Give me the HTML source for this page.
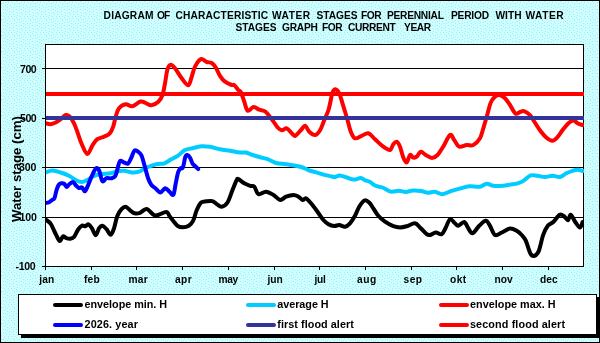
<!DOCTYPE html>
<html><head><meta charset="utf-8"><style>
html,body{margin:0;padding:0;width:600px;height:343px;overflow:hidden;background:#CCFFFF}
svg{position:absolute;left:0;top:0;display:block}
text{font-family:"Liberation Sans",sans-serif;font-weight:bold}
</style></head><body>
<svg width="600" height="343" viewBox="0 0 600 343">
<defs><pattern id="bgp" x="1" y="36" width="16" height="16" patternUnits="userSpaceOnUse"><rect width="16" height="16" fill="#CCFFFF"/><g fill="#B2E5EE"><rect x="6" y="0" width="1" height="1"/><rect x="13" y="0" width="1" height="1"/><rect x="4" y="1" width="1" height="1"/><rect x="9" y="1" width="1" height="1"/><rect x="2" y="2" width="1" height="1"/><rect x="15" y="2" width="1" height="1"/><rect x="6" y="3" width="1" height="1"/><rect x="10" y="3" width="1" height="1"/><rect x="13" y="3" width="1" height="1"/><rect x="8" y="4" width="1" height="1"/><rect x="2" y="5" width="1" height="1"/><rect x="4" y="5" width="1" height="1"/><rect x="11" y="5" width="1" height="1"/><rect x="15" y="5" width="1" height="1"/><rect x="6" y="6" width="1" height="1"/><rect x="8" y="7" width="1" height="1"/><rect x="12" y="7" width="1" height="1"/><rect x="4" y="8" width="1" height="1"/><rect x="10" y="8" width="1" height="1"/><rect x="15" y="8" width="1" height="1"/><rect x="2" y="9" width="1" height="1"/><rect x="5" y="10" width="1" height="1"/><rect x="8" y="10" width="1" height="1"/><rect x="12" y="10" width="1" height="1"/><rect x="0" y="11" width="1" height="1"/><rect x="3" y="12" width="1" height="1"/><rect x="7" y="12" width="1" height="1"/><rect x="10" y="12" width="1" height="1"/><rect x="13" y="12" width="1" height="1"/><rect x="15" y="13" width="1" height="1"/><rect x="4" y="14" width="1" height="1"/><rect x="7" y="14" width="1" height="1"/><rect x="11" y="14" width="1" height="1"/><rect x="0" y="15" width="1" height="1"/><rect x="2" y="15" width="1" height="1"/><rect x="13" y="15" width="1" height="1"/></g></pattern><clipPath id="pc"><rect x="46" y="45" width="538" height="221"/></clipPath></defs>
<rect x="0" y="0" width="600" height="343" fill="url(#bgp)"/>
<path d="M0,0H600V343H0Z M1,1V342H599V1Z" fill="#000" fill-rule="evenodd"/>
<rect x="45" y="44" width="539" height="223" fill="#000"/><rect x="46" y="45" width="537" height="221" fill="#fff"/>
<rect x="42" y="68" width="541" height="1" fill="#000"/>
<rect x="42" y="118" width="541" height="1" fill="#000"/>
<rect x="42" y="167" width="541" height="1" fill="#000"/>
<rect x="42" y="217" width="541" height="1" fill="#000"/>
<rect x="42" y="266" width="3" height="1" fill="#000"/>
<rect x="45" y="267" width="1" height="3" fill="#000"/>
<rect x="91" y="267" width="1" height="3" fill="#000"/>
<rect x="136" y="267" width="1" height="3" fill="#000"/>
<rect x="182" y="267" width="1" height="3" fill="#000"/>
<rect x="228" y="267" width="1" height="3" fill="#000"/>
<rect x="274" y="267" width="1" height="3" fill="#000"/>
<rect x="319" y="267" width="1" height="3" fill="#000"/>
<rect x="365" y="267" width="1" height="3" fill="#000"/>
<rect x="411" y="267" width="1" height="3" fill="#000"/>
<rect x="456" y="267" width="1" height="3" fill="#000"/>
<rect x="502" y="267" width="1" height="3" fill="#000"/>
<rect x="548" y="267" width="1" height="3" fill="#000"/>
<g clip-path="url(#pc)" fill="none" stroke-linejoin="round" stroke-linecap="round">
<path d="M45.70,219.50 C46.52,220.18 49.13,221.60 50.60,223.60 C52.07,225.60 53.20,228.87 54.50,231.50 C55.80,234.13 57.42,237.87 58.40,239.40 C59.38,240.93 59.63,241.22 60.40,240.70 C61.17,240.18 62.02,236.73 63.00,236.30 C63.98,235.87 65.10,237.70 66.30,238.10 C67.50,238.50 68.88,238.93 70.20,238.70 C71.52,238.47 72.88,238.23 74.20,236.70 C75.52,235.17 76.78,231.35 78.10,229.50 C79.42,227.65 80.90,226.15 82.10,225.60 C83.30,225.05 84.22,226.42 85.30,226.20 C86.38,225.98 87.50,223.97 88.60,224.30 C89.70,224.63 90.70,226.38 91.90,228.20 C93.10,230.02 94.60,235.20 95.80,235.20 C97.00,235.20 98.00,229.77 99.10,228.20 C100.20,226.63 101.17,225.63 102.40,225.80 C103.63,225.97 105.12,227.72 106.50,229.20 C107.88,230.68 109.45,234.85 110.70,234.70 C111.95,234.55 112.90,231.42 114.00,228.30 C115.10,225.18 116.05,219.18 117.30,216.00 C118.55,212.82 120.10,210.75 121.50,209.20 C122.90,207.65 124.17,206.43 125.70,206.70 C127.23,206.97 129.18,209.70 130.70,210.80 C132.22,211.90 133.25,212.97 134.80,213.30 C136.35,213.63 138.02,213.52 140.00,212.80 C141.98,212.08 144.17,208.55 146.70,209.00 C149.23,209.45 151.97,215.00 155.20,215.50 C158.43,216.00 163.70,211.87 166.10,212.00 C168.50,212.13 168.43,214.85 169.60,216.30 C170.77,217.75 171.78,219.12 173.10,220.70 C174.42,222.28 175.90,224.70 177.50,225.80 C179.10,226.90 180.82,227.30 182.70,227.30 C184.58,227.30 187.05,226.90 188.80,225.80 C190.55,224.70 191.88,223.30 193.20,220.70 C194.52,218.10 195.38,213.23 196.70,210.20 C198.02,207.17 199.50,203.98 201.10,202.50 C202.70,201.02 204.42,201.53 206.30,201.30 C208.18,201.07 210.65,200.63 212.40,201.10 C214.15,201.57 215.25,203.17 216.80,204.10 C218.35,205.03 219.92,206.97 221.70,206.70 C223.48,206.43 225.70,205.28 227.50,202.50 C229.30,199.72 230.97,193.75 232.50,190.00 C234.03,186.25 235.70,181.80 236.70,180.00 C237.70,178.20 237.23,178.65 238.50,179.20 C239.77,179.75 242.35,182.20 244.30,183.30 C246.25,184.40 248.53,185.23 250.20,185.80 C251.87,186.37 252.92,185.30 254.30,186.70 C255.68,188.10 256.55,193.37 258.50,194.20 C260.45,195.03 263.50,191.57 266.00,191.70 C268.50,191.83 271.13,193.62 273.50,195.00 C275.87,196.38 278.12,199.72 280.20,200.00 C282.28,200.28 283.78,197.53 286.00,196.70 C288.22,195.87 291.42,195.00 293.50,195.00 C295.58,195.00 296.97,195.87 298.50,196.70 C300.03,197.53 301.45,199.73 302.70,200.00 C303.95,200.27 304.62,197.75 306.00,198.30 C307.38,198.85 309.20,201.22 311.00,203.30 C312.80,205.38 314.85,208.15 316.80,210.80 C318.75,213.45 320.75,216.97 322.70,219.20 C324.65,221.43 326.57,223.07 328.50,224.20 C330.43,225.33 332.52,225.87 334.30,226.00 C336.08,226.13 337.42,224.88 339.20,225.00 C340.98,225.12 343.20,226.98 345.00,226.70 C346.80,226.42 348.33,225.12 350.00,223.30 C351.67,221.48 353.47,218.57 355.00,215.80 C356.53,213.03 357.62,209.25 359.20,206.70 C360.78,204.15 362.83,201.20 364.50,200.50 C366.17,199.80 367.73,201.20 369.20,202.50 C370.67,203.80 371.78,206.08 373.30,208.30 C374.82,210.52 376.35,213.57 378.30,215.80 C380.25,218.03 382.50,219.97 385.00,221.70 C387.50,223.43 390.80,225.23 393.30,226.20 C395.80,227.17 397.77,227.48 400.00,227.50 C402.23,227.52 404.20,227.00 406.70,226.30 C409.20,225.60 412.65,222.97 415.00,223.30 C417.35,223.63 418.85,226.48 420.80,228.30 C422.75,230.12 425.17,233.08 426.70,234.20 C428.23,235.32 428.48,235.28 430.00,235.00 C431.52,234.72 433.85,232.63 435.80,232.50 C437.75,232.37 440.03,235.03 441.70,234.20 C443.37,233.37 444.42,230.00 445.80,227.50 C447.18,225.00 448.47,219.90 450.00,219.20 C451.53,218.50 453.62,222.20 455.00,223.30 C456.38,224.40 456.77,226.02 458.30,225.80 C459.83,225.58 462.53,221.58 464.20,222.00 C465.87,222.42 466.92,226.42 468.30,228.30 C469.68,230.18 470.68,233.72 472.50,233.30 C474.32,232.88 476.98,227.88 479.20,225.80 C481.42,223.72 484.00,220.80 485.80,220.80 C487.60,220.80 488.47,223.43 490.00,225.80 C491.53,228.17 493.05,233.88 495.00,235.00 C496.95,236.12 499.20,233.57 501.70,232.50 C504.20,231.43 507.50,228.88 510.00,228.60 C512.50,228.32 514.75,229.73 516.70,230.80 C518.65,231.87 520.20,233.40 521.70,235.00 C523.20,236.60 524.27,237.35 525.70,240.40 C527.13,243.45 528.92,250.70 530.30,253.30 C531.68,255.90 532.62,256.32 534.00,256.00 C535.38,255.68 537.07,254.92 538.60,251.40 C540.13,247.88 541.67,239.18 543.20,234.90 C544.73,230.62 546.12,227.85 547.80,225.70 C549.48,223.55 551.32,223.83 553.30,222.00 C555.28,220.17 557.87,215.62 559.70,214.70 C561.53,213.78 562.92,215.58 564.30,216.50 C565.68,217.42 566.93,220.50 568.00,220.20 C569.07,219.90 569.48,214.40 570.70,214.70 C571.92,215.00 573.77,219.85 575.30,222.00 C576.83,224.15 578.67,227.60 579.90,227.60 C581.13,227.60 582.23,222.93 582.70,222.00" stroke="#000000" stroke-width="4.0"/>
<path d="M45.70,172.50 C46.80,172.17 49.80,170.50 52.30,170.50 C54.80,170.50 57.92,171.62 60.70,172.50 C63.48,173.38 66.50,174.55 69.00,175.80 C71.50,177.05 73.62,178.97 75.70,180.00 C77.78,181.03 79.57,182.00 81.50,182.00 C83.43,182.00 85.22,181.03 87.30,180.00 C89.38,178.97 91.77,176.77 94.00,175.80 C96.23,174.83 97.92,174.62 100.70,174.20 C103.48,173.78 107.93,173.78 110.70,173.30 C113.47,172.82 115.08,171.72 117.30,171.30 C119.52,170.88 121.50,170.60 124.00,170.80 C126.50,171.00 129.80,172.35 132.30,172.50 C134.80,172.65 136.60,172.53 139.00,171.70 C141.40,170.87 143.80,168.75 146.70,167.50 C149.60,166.25 153.45,164.90 156.40,164.20 C159.35,163.50 161.98,164.07 164.40,163.30 C166.82,162.53 168.62,160.88 170.90,159.60 C173.18,158.32 175.83,157.15 178.10,155.60 C180.37,154.05 182.23,151.50 184.50,150.30 C186.77,149.10 188.88,149.08 191.70,148.40 C194.52,147.72 198.35,146.47 201.40,146.20 C204.45,145.93 206.90,146.30 210.00,146.80 C213.10,147.30 216.67,148.53 220.00,149.20 C223.33,149.87 226.67,150.25 230.00,150.80 C233.33,151.35 237.33,152.22 240.00,152.50 C242.67,152.78 243.88,152.08 246.00,152.50 C248.12,152.92 250.20,154.17 252.70,155.00 C255.20,155.83 258.50,156.80 261.00,157.50 C263.50,158.20 265.20,158.28 267.70,159.20 C270.20,160.12 272.95,162.17 276.00,163.00 C279.05,163.83 282.95,163.78 286.00,164.20 C289.05,164.62 291.52,164.95 294.30,165.50 C297.08,166.05 300.20,166.67 302.70,167.50 C305.20,168.33 307.03,169.70 309.30,170.50 C311.57,171.30 313.77,171.57 316.30,172.30 C318.83,173.03 322.17,174.27 324.50,174.90 C326.83,175.53 328.55,175.77 330.30,176.10 C332.05,176.43 333.43,177.02 335.00,176.90 C336.57,176.78 337.75,175.30 339.70,175.40 C341.65,175.50 344.37,176.80 346.70,177.50 C349.03,178.20 351.37,179.50 353.70,179.60 C356.03,179.70 358.77,177.97 360.70,178.10 C362.63,178.23 363.80,179.80 365.30,180.40 C366.80,181.00 368.00,180.80 369.70,181.70 C371.40,182.60 373.37,184.83 375.50,185.80 C377.63,186.77 379.97,186.53 382.50,187.50 C385.03,188.47 387.98,191.05 390.70,191.60 C393.42,192.15 396.28,190.75 398.80,190.80 C401.32,190.85 403.47,191.93 405.80,191.90 C408.13,191.87 410.27,190.75 412.80,190.60 C415.33,190.45 418.47,190.63 421.00,191.00 C423.53,191.37 425.67,192.67 428.00,192.80 C430.33,192.93 432.58,191.57 435.00,191.80 C437.42,192.03 439.72,194.37 442.50,194.20 C445.28,194.03 448.65,191.78 451.70,190.80 C454.75,189.82 457.88,189.05 460.80,188.30 C463.72,187.55 466.00,186.57 469.20,186.30 C472.40,186.03 477.08,187.13 480.00,186.70 C482.92,186.27 484.48,183.85 486.70,183.70 C488.92,183.55 490.53,185.45 493.30,185.80 C496.07,186.15 500.52,186.00 503.30,185.80 C506.08,185.60 507.63,185.02 510.00,184.60 C512.37,184.18 515.21,183.97 517.50,183.30 C519.79,182.63 521.57,181.92 523.75,180.60 C525.93,179.28 528.31,176.20 530.60,175.40 C532.89,174.60 535.10,175.53 537.50,175.80 C539.90,176.07 542.50,177.00 545.00,177.00 C547.50,177.00 550.00,175.80 552.50,175.80 C555.00,175.80 557.71,177.42 560.00,177.00 C562.29,176.58 564.17,174.33 566.25,173.30 C568.33,172.27 570.62,171.38 572.50,170.80 C574.38,170.22 575.75,169.77 577.50,169.80 C579.25,169.83 582.08,170.80 583.00,171.00" stroke="#00CCFF" stroke-width="4.0"/>
<path d="M45.70,123.30 C46.53,123.45 49.03,124.33 50.70,124.20 C52.37,124.07 54.03,123.33 55.70,122.50 C57.37,121.67 59.03,120.45 60.70,119.20 C62.37,117.95 64.18,115.42 65.70,115.00 C67.22,114.58 68.42,115.32 69.80,116.70 C71.18,118.08 72.75,120.80 74.00,123.30 C75.25,125.80 76.05,128.33 77.30,131.70 C78.55,135.07 79.83,139.78 81.50,143.50 C83.17,147.22 85.47,153.70 87.30,154.00 C89.13,154.30 90.83,147.77 92.50,145.30 C94.17,142.83 95.38,140.63 97.30,139.20 C99.22,137.77 101.92,137.68 104.00,136.70 C106.08,135.72 108.27,134.97 109.80,133.30 C111.33,131.63 112.22,129.47 113.20,126.70 C114.18,123.93 114.73,119.77 115.70,116.70 C116.67,113.63 117.33,110.38 119.00,108.30 C120.67,106.22 123.48,104.53 125.70,104.20 C127.92,103.87 129.82,106.75 132.30,106.30 C134.78,105.85 138.27,101.98 140.60,101.50 C142.93,101.02 144.50,102.77 146.30,103.40 C148.10,104.03 149.40,105.58 151.40,105.30 C153.40,105.02 156.45,103.42 158.30,101.70 C160.15,99.98 161.38,98.07 162.50,95.00 C163.62,91.93 164.17,87.60 165.00,83.30 C165.83,79.00 166.53,72.30 167.50,69.20 C168.47,66.10 169.55,64.85 170.80,64.70 C172.05,64.55 173.18,66.03 175.00,68.30 C176.82,70.57 179.48,75.47 181.70,78.30 C183.92,81.13 186.63,85.57 188.30,85.30 C189.97,85.03 190.58,79.80 191.70,76.70 C192.82,73.60 193.48,69.62 195.00,66.70 C196.52,63.78 198.85,59.98 200.80,59.20 C202.75,58.42 204.88,61.37 206.70,62.00 C208.52,62.63 210.18,62.08 211.70,63.00 C213.22,63.92 214.42,65.37 215.80,67.50 C217.18,69.63 218.47,73.43 220.00,75.80 C221.53,78.17 223.04,80.17 225.00,81.70 C226.96,83.23 230.22,84.45 231.75,85.00 C233.28,85.55 233.11,84.17 234.20,85.00 C235.29,85.83 237.17,88.75 238.30,90.00 C239.43,91.25 240.00,90.55 241.00,92.50 C242.00,94.45 243.18,98.65 244.30,101.70 C245.42,104.75 246.17,109.92 247.70,110.80 C249.23,111.68 251.57,107.18 253.50,107.00 C255.43,106.82 257.35,108.95 259.30,109.70 C261.25,110.45 263.12,109.92 265.20,111.50 C267.28,113.08 269.72,116.53 271.80,119.20 C273.88,121.87 276.03,125.65 277.70,127.50 C279.37,129.35 280.28,130.17 281.80,130.30 C283.32,130.43 285.13,127.80 286.80,128.30 C288.47,128.80 290.40,132.05 291.80,133.30 C293.20,134.55 293.67,136.35 295.20,135.80 C296.73,135.25 299.33,131.67 301.00,130.00 C302.67,128.33 303.82,125.52 305.20,125.80 C306.58,126.08 307.63,130.17 309.30,131.70 C310.97,133.23 313.38,135.28 315.20,135.00 C317.02,134.72 318.68,132.50 320.20,130.00 C321.72,127.50 322.92,123.33 324.30,120.00 C325.68,116.67 327.42,113.33 328.50,110.00 C329.58,106.67 330.13,102.92 330.80,100.00 C331.47,97.08 331.75,94.30 332.50,92.50 C333.25,90.70 334.18,89.07 335.30,89.20 C336.42,89.33 338.00,90.95 339.20,93.30 C340.40,95.65 341.40,99.82 342.50,103.30 C343.60,106.78 344.97,111.42 345.80,114.20 C346.63,116.98 346.67,117.08 347.50,120.00 C348.33,122.92 349.55,128.65 350.80,131.70 C352.05,134.75 353.18,137.62 355.00,138.30 C356.82,138.98 359.48,136.63 361.70,135.80 C363.92,134.97 366.08,132.73 368.30,133.30 C370.52,133.87 372.50,136.97 375.00,139.20 C377.50,141.43 380.80,144.90 383.30,146.70 C385.80,148.50 388.33,150.42 390.00,150.00 C391.67,149.58 392.18,145.58 393.30,144.20 C394.42,142.82 395.58,141.28 396.70,141.70 C397.82,142.12 398.90,144.07 400.00,146.70 C401.10,149.33 402.18,154.87 403.30,157.50 C404.42,160.13 405.58,162.92 406.70,162.50 C407.82,162.08 408.90,155.83 410.00,155.00 C411.10,154.17 412.18,157.22 413.30,157.50 C414.42,157.78 415.45,157.67 416.70,156.70 C417.95,155.73 419.28,151.98 420.80,151.70 C422.32,151.42 423.93,153.95 425.80,155.00 C427.67,156.05 430.05,158.00 432.00,158.00 C433.95,158.00 435.62,156.92 437.50,155.00 C439.38,153.08 441.22,149.83 443.30,146.50 C445.38,143.17 448.18,136.08 450.00,135.00 C451.82,133.92 452.67,138.05 454.20,140.00 C455.73,141.95 457.12,145.87 459.20,146.70 C461.28,147.53 464.35,145.28 466.70,145.00 C469.05,144.72 471.08,146.12 473.30,145.00 C475.52,143.88 478.33,141.08 480.00,138.30 C481.67,135.52 482.18,131.90 483.30,128.30 C484.42,124.70 485.45,121.00 486.70,116.70 C487.95,112.40 489.42,105.83 490.80,102.50 C492.18,99.17 493.60,97.95 495.00,96.70 C496.40,95.45 497.53,94.73 499.20,95.00 C500.87,95.27 503.20,96.63 505.00,98.30 C506.80,99.97 508.25,102.47 510.00,105.00 C511.75,107.53 513.83,112.33 515.50,113.50 C517.17,114.67 518.58,112.38 520.00,112.00 C521.42,111.62 522.33,110.67 524.00,111.20 C525.67,111.73 528.25,113.40 530.00,115.20 C531.75,117.00 532.75,119.37 534.50,122.00 C536.25,124.63 538.50,128.38 540.50,131.00 C542.50,133.62 544.50,136.08 546.50,137.70 C548.50,139.32 550.75,140.70 552.50,140.70 C554.25,140.70 555.25,139.57 557.00,137.70 C558.75,135.83 561.00,132.00 563.00,129.50 C565.00,127.00 567.25,124.20 569.00,122.70 C570.75,121.20 572.00,120.37 573.50,120.50 C575.00,120.63 576.50,122.75 578.00,123.50 C579.50,124.25 581.75,124.75 582.50,125.00" stroke="#FF0000" stroke-width="4.0"/>
<path d="M45.50,203.00 C46.10,202.87 48.02,202.70 49.10,202.20 C50.18,201.70 51.10,200.68 52.00,200.00 C52.90,199.32 53.77,199.67 54.50,198.10 C55.23,196.53 55.72,192.78 56.40,190.60 C57.08,188.42 57.75,186.22 58.60,185.00 C59.45,183.78 60.53,183.47 61.50,183.30 C62.47,183.13 63.55,183.40 64.40,184.00 C65.25,184.60 65.75,186.90 66.60,186.90 C67.45,186.90 68.42,184.80 69.50,184.00 C70.58,183.20 72.02,181.85 73.10,182.10 C74.18,182.35 75.03,184.52 76.00,185.50 C76.97,186.48 77.88,187.68 78.90,188.00 C79.92,188.32 81.12,186.85 82.10,187.40 C83.08,187.95 83.87,191.50 84.80,191.30 C85.73,191.10 86.73,188.27 87.70,186.20 C88.67,184.13 89.52,181.45 90.60,178.90 C91.68,176.35 93.18,172.72 94.20,170.90 C95.22,169.08 95.85,168.00 96.70,168.00 C97.55,168.00 98.35,168.70 99.30,170.90 C100.25,173.10 101.22,179.98 102.40,181.20 C103.58,182.42 104.93,178.68 106.40,178.20 C107.87,177.72 109.73,178.65 111.20,178.30 C112.67,177.95 114.12,177.80 115.20,176.10 C116.28,174.40 116.90,170.63 117.70,168.10 C118.50,165.57 118.93,161.83 120.00,160.90 C121.07,159.97 122.75,162.07 124.10,162.50 C125.45,162.93 126.90,164.30 128.10,163.50 C129.30,162.70 130.23,159.87 131.30,157.70 C132.37,155.53 133.30,151.45 134.50,150.50 C135.70,149.55 137.30,151.08 138.50,152.00 C139.70,152.92 140.62,153.45 141.70,156.00 C142.78,158.55 143.92,163.55 145.00,167.30 C146.08,171.05 147.13,175.55 148.20,178.50 C149.27,181.45 150.20,183.38 151.40,185.00 C152.60,186.62 153.90,186.97 155.40,188.20 C156.90,189.43 158.77,192.38 160.40,192.40 C162.03,192.42 163.72,188.45 165.20,188.30 C166.68,188.15 167.95,190.42 169.30,191.50 C170.65,192.58 172.23,196.13 173.30,194.80 C174.37,193.47 174.90,187.25 175.70,183.50 C176.50,179.75 177.30,174.83 178.10,172.30 C178.90,169.77 179.70,169.10 180.50,168.30 C181.30,167.50 182.10,169.38 182.90,167.50 C183.70,165.62 184.58,159.08 185.30,157.00 C186.02,154.92 186.40,154.87 187.20,155.00 C188.00,155.13 189.22,156.38 190.10,157.80 C190.98,159.22 191.70,162.15 192.50,163.50 C193.30,164.85 193.95,164.97 194.90,165.90 C195.85,166.83 197.65,168.57 198.20,169.10" stroke="#0000FF" stroke-width="4.0"/>
</g>
<rect x="46" y="116" width="538" height="4" fill="#333399"/>
<rect x="46" y="92" width="538" height="4" fill="#FF0000"/>
<rect x="21" y="297" width="579" height="41" fill="#000"/>
<rect x="18" y="294" width="579" height="41" fill="#000"/><rect x="19" y="295" width="577" height="39" fill="#fff"/>
<line x1="55" y1="305.0" x2="81" y2="305.0" stroke="#000000" stroke-width="4" stroke-linecap="round"/>
<line x1="248" y1="305.0" x2="274" y2="305.0" stroke="#00CCFF" stroke-width="4" stroke-linecap="round"/>
<line x1="441" y1="305.0" x2="467" y2="305.0" stroke="#FF0000" stroke-width="4" stroke-linecap="round"/>
<line x1="55" y1="325.0" x2="81" y2="325.0" stroke="#0000FF" stroke-width="4" stroke-linecap="round"/>
<line x1="248" y1="325.0" x2="274" y2="325.0" stroke="#333399" stroke-width="4" stroke-linecap="round"/>
<line x1="441" y1="325.0" x2="467" y2="325.0" stroke="#FF0000" stroke-width="4" stroke-linecap="round"/>
</svg>
<svg width="600" height="343" viewBox="0 0 600 343" style="will-change:transform"><g font-family="Liberation Sans, sans-serif" font-weight="bold" fill="#000"><text x="103.60" y="19.00" font-size="10.20" textLength="49.87" lengthAdjust="spacing">DIAGRAM</text><text x="157.00" y="19.00" font-size="10.20" textLength="13.16" lengthAdjust="spacing">OF</text><text x="175.50" y="19.00" font-size="10.20" textLength="92.56" lengthAdjust="spacing">CHARACTERISTIC</text><text x="272.00" y="19.00" font-size="10.20" textLength="38.03" lengthAdjust="spacing">WATER</text><text x="316.50" y="19.00" font-size="10.20" textLength="41.14" lengthAdjust="spacing">STAGES</text><text x="361.00" y="19.00" font-size="10.20" textLength="20.52" lengthAdjust="spacing">FOR</text><text x="387.00" y="19.00" font-size="10.20" textLength="56.88" lengthAdjust="spacing">PERENNIAL</text><text x="451.00" y="19.00" font-size="10.20" textLength="38.06" lengthAdjust="spacing">PERIOD</text><text x="495.50" y="19.00" font-size="10.20" textLength="26.03" lengthAdjust="spacing">WITH</text><text x="525.50" y="19.00" font-size="10.20" textLength="38.03" lengthAdjust="spacing">WATER</text><text x="235.50" y="31.00" font-size="10.20" textLength="41.14" lengthAdjust="spacing">STAGES</text><text x="282.00" y="31.00" font-size="10.20" textLength="35.80" lengthAdjust="spacing">GRAPH</text><text x="322.00" y="31.00" font-size="10.20" textLength="20.52" lengthAdjust="spacing">FOR</text><text x="348.00" y="31.00" font-size="10.20" textLength="47.61" lengthAdjust="spacing">CURRENT</text><text x="404.00" y="31.00" font-size="10.20" textLength="27.11" lengthAdjust="spacing">YEAR</text><text x="20.00" y="72.60" font-size="10.60" textLength="16.69" lengthAdjust="spacing">700</text><text x="20.00" y="121.60" font-size="10.60" textLength="16.69" lengthAdjust="spacing">500</text><text x="19.00" y="170.60" font-size="10.60" textLength="17.49" lengthAdjust="spacing">300</text><text x="19.50" y="220.60" font-size="10.60" textLength="17.49" lengthAdjust="spacing">100</text><text x="15.50" y="269.70" font-size="10.60" textLength="20.20" lengthAdjust="spacing">-100</text><text x="39.30" y="282.80" font-size="10.20" textLength="15.03" lengthAdjust="spacing">jan</text><text x="84.00" y="282.80" font-size="10.20" textLength="15.68" lengthAdjust="spacing">feb</text><text x="128.50" y="282.80" font-size="10.20" textLength="19.30" lengthAdjust="spacing">mar</text><text x="175.00" y="282.80" font-size="10.20" textLength="16.66" lengthAdjust="spacing">apr</text><text x="218.50" y="282.80" font-size="10.20" textLength="19.79" lengthAdjust="spacing">may</text><text x="267.50" y="282.80" font-size="10.20" textLength="15.28" lengthAdjust="spacing">jun</text><text x="314.50" y="282.80" font-size="10.20" textLength="11.29" lengthAdjust="spacing">jul</text><text x="357.00" y="282.80" font-size="10.20" textLength="19.32" lengthAdjust="spacing">aug</text><text x="403.50" y="282.80" font-size="10.20" textLength="18.56" lengthAdjust="spacing">sep</text><text x="450.00" y="282.80" font-size="10.20" textLength="16.28" lengthAdjust="spacing">okt</text><text x="494.50" y="282.80" font-size="10.20" textLength="18.13" lengthAdjust="spacing">nov</text><text x="540.00" y="282.80" font-size="10.20" textLength="17.56" lengthAdjust="spacing">dec</text><text x="84.50" y="308.00" font-size="10.80" textLength="82.60" lengthAdjust="spacing">envelope min. H</text><text x="277.25" y="308.00" font-size="10.80" textLength="51.42" lengthAdjust="spacing">average H</text><text x="470.00" y="308.00" font-size="10.80" textLength="85.62" lengthAdjust="spacing">envelope max. H</text><text x="84.60" y="327.50" font-size="10.80" textLength="53.23" lengthAdjust="spacing">2026. year</text><text x="277.25" y="327.50" font-size="10.80" textLength="76.59" lengthAdjust="spacing">first flood alert</text><text x="470.00" y="327.50" font-size="10.80" textLength="95.00" lengthAdjust="spacing">second flood alert</text><text x="0" y="0" font-size="13.40" textLength="106.00" lengthAdjust="spacingAndGlyphs" text-anchor="middle" transform="translate(20.50,169.00) rotate(-90)">Water stage (cm)</text></g></svg>
</body></html>
